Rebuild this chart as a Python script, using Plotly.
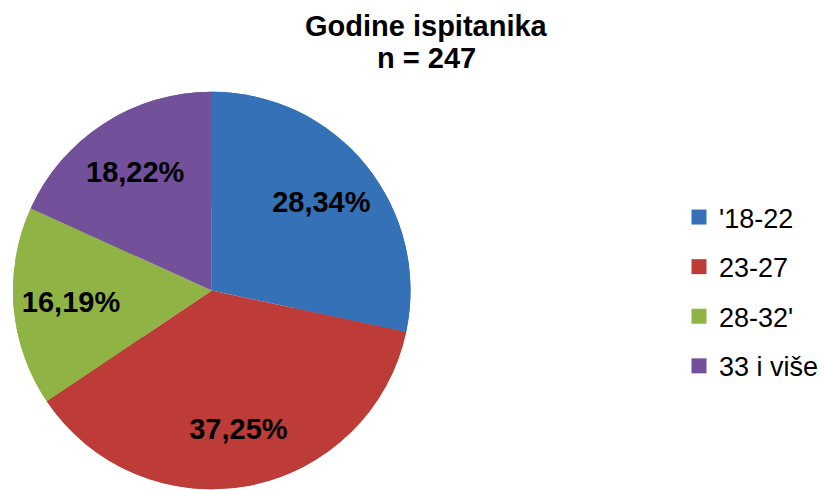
import plotly.graph_objects as go

title_line1 = "Godine ispitanika"
title_line2 = "n = 247"
categories = ["'18-22", "23-27", "28-32'", "33 i više"]
counts = [70, 92, 40, 45]
colors = ["#3571B6", "#BE3C38", "#8FB445", "#72509A"]

font_family = "Arial, Liberation Sans, sans-serif"
pie_domain = dict(x=[13 / 824, 411 / 824], y=[0.001, 0.8133])

fig = go.Figure()

# full pie (slices)
fig.add_trace(go.Pie(
    labels=categories, values=counts, sort=False,
    direction="clockwise", rotation=0,
    marker=dict(colors=colors, line=dict(width=0)),
    textinfo="none", showlegend=False,
    hoverinfo="label+value+percent",
    domain=pie_domain,
))

# same data as a ring on top, only to carry the percentage labels further out
fig.add_trace(go.Pie(
    labels=categories, values=counts, sort=False,
    direction="clockwise", rotation=0, hole=0.42,
    marker=dict(colors=colors, line=dict(width=0)),
    texttemplate="%{percent:.2%}",
    textposition="inside",
    insidetextorientation="horizontal",
    textfont=dict(family=font_family, size=29, color="black", weight="bold"),
    showlegend=False, hoverinfo="skip",
    domain=pie_domain,
))

for name, col in zip(categories, colors):
    fig.add_trace(go.Scatter(
        x=[None], y=[None], mode="markers", name=name, legendgroup=name,
        marker=dict(symbol="square", size=15, color=col),
        showlegend=True, hoverinfo="skip",
    ))

fig.add_annotation(text="<b>" + title_line1 + "</b>", x=427 / 824, y=1 - 26 / 490,
                   xref="paper", yref="paper", xanchor="center", yanchor="middle",
                   showarrow=False, font=dict(family=font_family, size=29, color="black"))
fig.add_annotation(text="<b>" + title_line2 + "</b>", x=427 / 824, y=1 - 58 / 490,
                   xref="paper", yref="paper", xanchor="center", yanchor="middle",
                   showarrow=False, font=dict(family=font_family, size=29, color="black"))

fig.update_layout(
    width=824, height=490,
    margin=dict(l=0, r=0, t=0, b=0),
    paper_bgcolor="white", plot_bgcolor="white",
    separators=",.",
    xaxis=dict(visible=False), yaxis=dict(visible=False),
    legend=dict(
        x=680 / 824, y=1 - 193 / 490, xanchor="left", yanchor="top",
        font=dict(family=font_family, size=27, color="black"),
        traceorder="grouped", tracegroupgap=11.5,
        bgcolor="rgba(0,0,0,0)", borderwidth=0,
    ),
)

fig.write_html("out.html")
